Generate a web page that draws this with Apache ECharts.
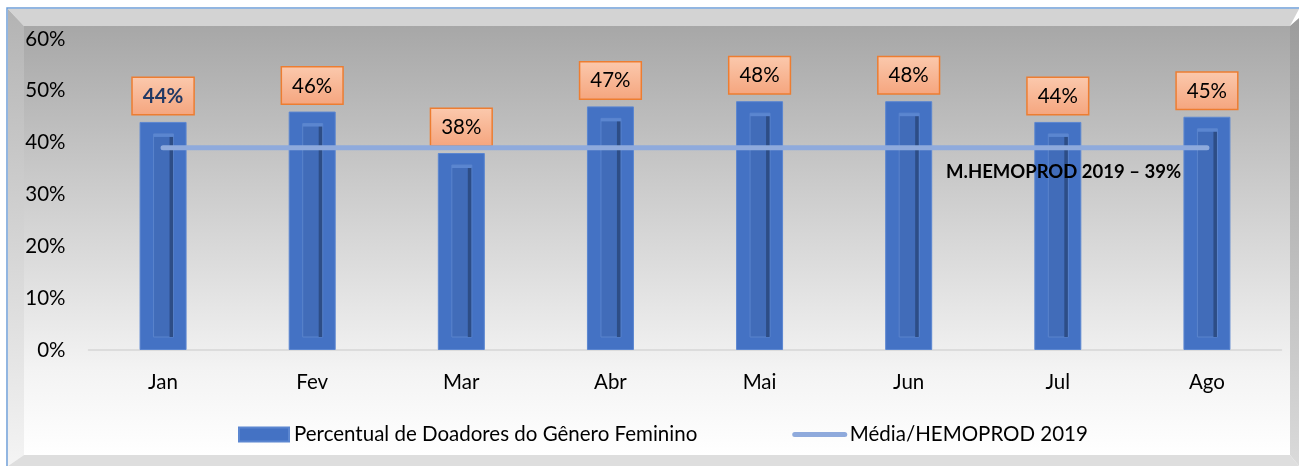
<!DOCTYPE html>
<html>
<head>
<meta charset="utf-8">
<script src="https://cdn.jsdelivr.net/npm/echarts@6/dist/echarts.min.js"></script>
<style>
  html, body { margin: 0; padding: 0; background: #fff; }
  #chart { width: 1299px; height: 466px; }
</style>
</head>
<body>
<div id="chart"></div>
<script>
const months = ['Jan', 'Fev', 'Mar', 'Abr', 'Mai', 'Jun', 'Jul', 'Ago']
const femininoPct = [44, 46, 38, 47, 48, 48, 44, 45]
const mediaPct = [39, 39, 39, 39, 39, 39, 39, 39]
const yTicks = [0, 10, 20, 30, 40, 50, 60]

const FONT = 'Lato'
const FS = 20.5
const chart = echarts.init(document.getElementById('chart'))

// moldura em "caixa 3D" do gráfico original
const grad = (stops) => new echarts.graphic.LinearGradient(0, 0, 0, 1,
  stops.map(([offset, color]) => ({ offset, color })))

const frame = [
  { type: 'rect', shape: { x: 24, y: 26, width: 1266, height: 429 },
    style: { fill: grad([[0, '#a7a7a7'], [0.4, '#cecece'], [0.8, '#f3f3f3'], [1, '#ffffff']]) } },
  { type: 'polygon', shape: { points: [[8, 9], [1299, 9], [1290, 26], [24, 26]] },
    style: { fill: '#d3d3d3' } },
  { type: 'polygon', shape: { points: [[8, 9], [24, 26], [24, 455], [8, 466]] },
    style: { fill: grad([[0, '#b3b3b3'], [1, '#f4f4f4']]) } },
  { type: 'polygon', shape: { points: [[1290, 26], [1299, 18], [1299, 466], [1290, 455]] },
    style: { fill: grad([[0, '#9c9c9c'], [1, '#dadada']]) } },
  { type: 'polygon', shape: { points: [[24, 455], [1290, 455], [1299, 466], [8, 466]] },
    style: { fill: '#dedede' } },
  { type: 'polyline', shape: { points: [[7, 466], [7, 8], [1299, 8]] },
    style: { stroke: '#6f9fd8', lineWidth: 1.5, fill: null } },
  { type: 'text', left: 946, top: 163, z: 100,
    style: { text: 'M.HEMOPROD 2019 – 39%', font: 'bold 18.5px ' + FONT, fill: '#000' } }
]

const labelBox = {
  show: true,
  position: 'top',
  distance: 8,
  formatter: '{c}%',
  fontFamily: FONT,
  fontSize: FS,
  color: '#000',
  backgroundColor: grad([[0, '#fbc9ad'], [1, '#f5a57e']]),
  borderColor: '#ed7d31',
  borderWidth: 1.5,
  padding: [8, 10, 7, 10]
}

chart.setOption({
  animation: false,
  graphic: frame,
  grid: { left: 88.5, right: 17.5, top: 39, bottom: 116 },
  legend: {
    bottom: 16,
    left: 233,
    itemGap: 95,
    itemWidth: 50,
    itemHeight: 14,
    textStyle: { fontFamily: FONT, fontSize: FS, color: '#000' },
    data: [
      { name: 'Percentual de Doadores do Gênero Feminino', icon: 'rect' },
      { name: 'Média/HEMOPROD 2019', itemStyle: { opacity: 0 }, lineStyle: { width: 5, cap: 'round' } }
    ]
  },
  xAxis: {
    type: 'category',
    data: months,
    axisTick: { show: false },
    axisLine: { lineStyle: { color: '#d6d6d6', width: 1.5 } },
    axisLabel: { fontFamily: FONT, fontSize: FS, color: '#000', margin: 22 }
  },
  yAxis: {
    type: 'value',
    min: yTicks[0],
    max: yTicks[yTicks.length - 1],
    interval: yTicks[1] - yTicks[0],
    splitLine: { show: false },
    axisLine: { show: false },
    axisTick: { show: false },
    axisLabel: { fontFamily: FONT, fontSize: FS, color: '#000', margin: 23, formatter: '{value}%' }
  },
  series: [
    {
      name: 'Percentual de Doadores do Gênero Feminino',
      type: 'bar',
      barWidth: 47,
      z: 2,
      itemStyle: { color: '#4472c4', borderColor: '#5b86d0', borderWidth: 1 },
      label: labelBox,
      data: femininoPct.map((v, i) => i === 0
        ? { value: v, label: { fontWeight: 'bold', color: '#203864' } }
        : v)
    },
    {
      // relevo interno das barras
      name: 'relevo',
      type: 'custom',
      z: 3,
      silent: true,
      renderItem: (params, api) => {
        const top = api.coord([api.value(0), api.value(1)])
        const base = api.coord([api.value(0), 0])
        const x = top[0] - 23.5
        const y0 = top[1] + 12
        const y1 = base[1] - 13
        return {
          type: 'group',
          children: [
            { type: 'rect', shape: { x: x + 14, y: y0, width: 20, height: y1 - y0 },
              style: { fill: '#416cb9', stroke: '#5a84cc', lineWidth: 1 } },
            { type: 'rect', shape: { x: x + 30, y: y0 + 2, width: 3.5, height: y1 - y0 - 2 },
              style: { fill: '#2d4d86' } },
            { type: 'rect', shape: { x: x + 14, y: y0, width: 20, height: 3 },
              style: { fill: '#5b86d0' } }
          ]
        }
      },
      data: femininoPct.map((v, i) => [i, v])
    },
    {
      name: 'Média/HEMOPROD 2019',
      type: 'line',
      z: 4,
      symbol: 'none',
      lineStyle: { color: '#8faadc', width: 5, cap: 'round' },
      itemStyle: { color: '#8faadc' },
      data: mediaPct
    }
  ]
})
</script>
</body>
</html>
